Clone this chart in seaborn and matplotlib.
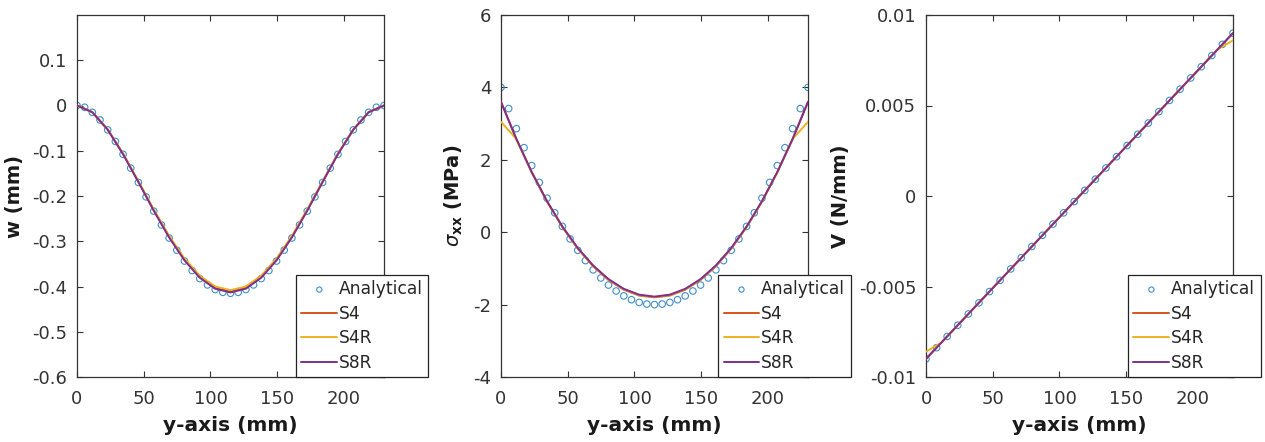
import numpy as np
import matplotlib
matplotlib.use("Agg")
import matplotlib.pyplot as plt
import seaborn as sns

# ---------------- data ----------------
# analytical sampling grid (41 points) for w and sigma
y_an41 = [0, 5.75, 11.5, 17.25, 23, 28.75, 34.5, 40.25, 46, 51.75, 57.5, 63.25, 69, 74.75,
          80.5, 86.25, 92, 97.75, 103.5, 109.25, 115, 120.75, 126.5, 132.25, 138, 143.75,
          149.5, 155.25, 161, 166.75, 172.5, 178.25, 184, 189.75, 195.5, 201.25, 207,
          212.75, 218.5, 224.25, 230]
# FE node positions (21 nodes)
y_fe = [0, 11.5, 23, 34.5, 46, 57.5, 69, 80.5, 92, 103.5, 115, 126.5, 138, 149.5, 161,
        172.5, 184, 195.5, 207, 218.5, 230]
# analytical grid (30 points) for V
y_an30 = [0, 7.93, 15.86, 23.79, 31.72, 39.66, 47.59, 55.52, 63.45, 71.38, 79.31, 87.24,
          95.17, 103.10, 111.03, 118.97, 126.90, 134.83, 142.76, 150.69, 158.62, 166.55,
          174.48, 182.41, 190.34, 198.28, 206.21, 214.14, 222.07, 230.0]

w_analytical = [0, -0.0039, -0.0150, -0.0320, -0.0538, -0.0794, -0.1079, -0.1384, -0.1700,
                -0.2019, -0.2334, -0.2639, -0.2928, -0.3196, -0.3437, -0.3647, -0.3825,
                -0.3965, -0.4067, -0.4129, -0.4150, -0.4129, -0.4067, -0.3965, -0.3825,
                -0.3647, -0.3437, -0.3196, -0.2928, -0.2639, -0.2334, -0.2019, -0.1700,
                -0.1384, -0.1079, -0.0794, -0.0538, -0.0320, -0.0150, -0.0039, 0]
w_S4 = [0, -0.0148, -0.0533, -0.1070, -0.1684, -0.2313, -0.2902, -0.3406, -0.3790, -0.4031,
        -0.4113, -0.4031, -0.3790, -0.3406, -0.2902, -0.2313, -0.1684, -0.1070, -0.0533,
        -0.0148, 0]
w_S4R = [0, -0.0147, -0.0529, -0.1062, -0.1672, -0.2296, -0.2880, -0.3380, -0.3761, -0.4000,
         -0.4081, -0.4000, -0.3761, -0.3380, -0.2880, -0.2296, -0.1672, -0.1062, -0.0529,
         -0.0147, 0]
w_S8R = [0, -0.0149, -0.0535, -0.1075, -0.1692, -0.2324, -0.2915, -0.3421, -0.3807, -0.4049,
         -0.4131, -0.4049, -0.3807, -0.3421, -0.2915, -0.2324, -0.1692, -0.1075, -0.0535,
         -0.0149, 0]

sxx_analytical = [4.0, 3.415, 2.86, 2.335, 1.84, 1.375, 0.94, 0.535, 0.16, -0.185, -0.5,
                  -0.785, -1.04, -1.265, -1.46, -1.625, -1.76, -1.865, -1.94, -1.985, -2.0,
                  -1.985, -1.94, -1.865, -1.76, -1.625, -1.46, -1.265, -1.04, -0.785, -0.5,
                  -0.185, 0.16, 0.535, 0.94, 1.375, 1.84, 2.335, 2.86, 3.415, 4.0]
sxx_S4 = [3.6, 2.572, 1.654, 0.843, 0.140, -0.453, -0.940, -1.318, -1.588, -1.750, -1.80,
          -1.750, -1.588, -1.318, -0.940, -0.453, 0.140, 0.843, 1.654, 2.572, 3.6]
sxx_S4R = [3.05, 2.575, 1.66, 0.85, 0.15, -0.445, -0.93, -1.307, -1.577, -1.738, -1.79,
           -1.738, -1.577, -1.307, -0.93, -0.445, 0.15, 0.85, 1.66, 2.575, 3.05]
sxx_S8R = [3.6, 2.578, 1.663, 0.856, 0.157, -0.435, -0.919, -1.296, -1.565, -1.726, -1.78,
           -1.726, -1.565, -1.296, -0.919, -0.435, 0.157, 0.856, 1.663, 2.578, 3.6]

V_analytical = [-0.00900, -0.00838, -0.00776, -0.00714, -0.00652, -0.00590, -0.00528,
                -0.00466, -0.00403, -0.00341, -0.00279, -0.00217, -0.00155, -0.00093,
                -0.00031, 0.00031, 0.00093, 0.00155, 0.00217, 0.00279, 0.00341, 0.00403,
                0.00466, 0.00528, 0.00590, 0.00652, 0.00714, 0.00776, 0.00838, 0.00900]
V_S4 = [-0.0090, -0.0081, -0.0072, -0.0063, -0.0054, -0.0045, -0.0036, -0.0027, -0.0018,
        -0.0009, 0.0, 0.0009, 0.0018, 0.0027, 0.0036, 0.0045, 0.0054, 0.0063, 0.0072,
        0.0081, 0.0090]
V_S4R = [-0.0086, -0.0081, -0.0072, -0.0063, -0.0054, -0.0045, -0.0036, -0.0027, -0.0018,
         -0.0009, 0.0, 0.0009, 0.0018, 0.0027, 0.0036, 0.0045, 0.0054, 0.0063, 0.0072,
         0.0081, 0.0086]
V_S8R = [-0.0090, -0.0081, -0.0072, -0.0063, -0.0054, -0.0045, -0.0036, -0.0027, -0.0018,
         -0.0009, 0.0, 0.0009, 0.0018, 0.0027, 0.0036, 0.0045, 0.0054, 0.0063, 0.0072,
         0.0081, 0.0090]

x_ticks = [0, 50, 100, 150, 200]
w_ticks = [-0.6, -0.5, -0.4, -0.3, -0.2, -0.1, 0, 0.1]
w_ticklabels = ["-0.6", "-0.5", "-0.4", "-0.3", "-0.2", "-0.1", "0", "0.1"]
s_ticks = [-4, -2, 0, 2, 4, 6]
s_ticklabels = ["-4", "-2", "0", "2", "4", "6"]
V_ticks = [-0.01, -0.005, 0, 0.005, 0.01]
V_ticklabels = ["-0.01", "-0.005", "0", "0.005", "0.01"]

series_names = ["Analytical", "S4", "S4R", "S8R"]

# ---------------- style ----------------
sns.set_theme(style="white")
plt.rcParams["font.family"] = ["DejaVu Sans"]
plt.rcParams["mathtext.fontset"] = "dejavusans"
plt.rcParams["axes.unicode_minus"] = False

C_AN = "#3f8fc9"
C_S4 = "#D95319"
C_S4R = "#EDB120"
C_S8R = "#7E2F8E"
AX_C = "#333333"

fig = plt.figure(figsize=(12.65, 4.42), dpi=100)
W, H = 1265.0, 442.0
lefts = [77, 501, 926]
ax_w, top, bot = 307, 15, 377
axes = [fig.add_axes([l / W, (H - bot) / H, ax_w / W, (bot - top) / H]) for l in lefts]

panels = [
    (w_analytical, w_S4, w_S4R, w_S8R, y_an41, (-0.6, 0.2), w_ticks, w_ticklabels,
     "w (mm)", 0.713),
    (sxx_analytical, sxx_S4, sxx_S4R, sxx_S8R, y_an41, (-4, 6), s_ticks, s_ticklabels,
     r"$\sigma_{\mathbf{xx}}$ (MPa)", 0.707),
    (V_analytical, V_S4, V_S4R, V_S8R, y_an30, (-0.01, 0.01), V_ticks, V_ticklabels,
     "V (N/mm)", 0.658),
]

for ax, (an, s4, s4r, s8r, yan, ylim, yt, ytl, ylab, lx) in zip(axes, panels):
    sns.scatterplot(x=yan, y=an, ax=ax, marker="o", s=22, facecolor="none",
                    edgecolor=C_AN, linewidth=0.8, label=series_names[0], zorder=2)
    sns.lineplot(x=y_fe, y=s4, ax=ax, color=C_S4, linewidth=1.4, label=series_names[1],
                 zorder=3)
    sns.lineplot(x=y_fe, y=s4r, ax=ax, color=C_S4R, linewidth=1.4, label=series_names[2],
                 zorder=3)
    sns.lineplot(x=y_fe, y=s8r, ax=ax, color=C_S8R, linewidth=1.4, label=series_names[3],
                 zorder=3)
    ax.set_xlim(0, 230)
    ax.set_ylim(*ylim)
    ax.set_xticks(x_ticks)
    ax.set_xticklabels([str(t) for t in x_ticks])
    ax.set_yticks(yt)
    ax.set_yticklabels(ytl)
    ax.tick_params(direction="in", length=4, width=0.8, colors=AX_C, labelsize=13,
                   top=True, right=True, bottom=True, left=True)
    ax.tick_params(axis="x", pad=9)
    ax.tick_params(axis="y", pad=7)
    for sp in ax.spines.values():
        sp.set_color(AX_C)
        sp.set_linewidth(0.9)
        sp.set_visible(True)
    ax.set_xlabel("y-axis (mm)", fontsize=14.5, fontweight="bold", color="#1a1a1a",
                  labelpad=6)
    ax.set_ylabel(ylab, fontsize=14, fontweight="bold", color="#1a1a1a", labelpad=6)
    ax.grid(False)
    h, l = ax.get_legend_handles_labels()
    order = [l.index(n) for n in series_names]
    leg = ax.legend([h[i] for i in order], [l[i] for i in order],
                    loc="lower left", bbox_to_anchor=(lx, 0.0), borderaxespad=0,
                    fontsize=12.3, frameon=True, fancybox=False, shadow=False,
                    framealpha=1, edgecolor="#222222", handlelength=2.1,
                    handletextpad=0.1, labelspacing=0.38, borderpad=0.32,
                    scatterpoints=1, markerscale=0.8)
    leg.get_frame().set_linewidth(0.9)
    leg.set_zorder(10)
    leg.set_in_layout(False)

fig.savefig("out.png", dpi=100)
